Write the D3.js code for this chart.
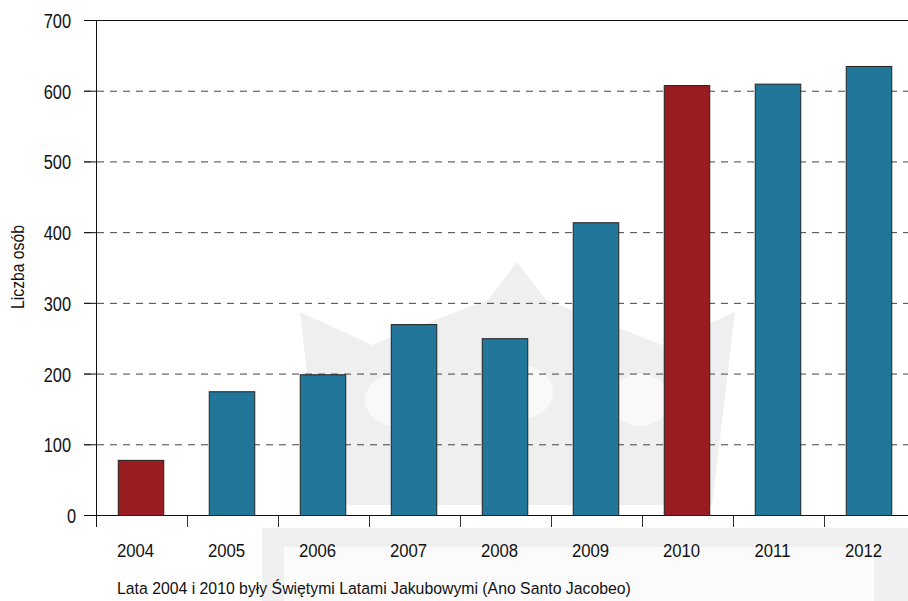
<!DOCTYPE html>
<html>
<head>
<meta charset="utf-8">
<script src="https://cdn.jsdelivr.net/npm/d3@7"></script>
<style>
  body { margin: 0; background: #fff; }
  svg { display: block; }
  text { font-family: "Liberation Sans", Arial, sans-serif; fill: #111; }
</style>
</head>
<body>
<div id="chart"></div>
<script>
const years = ["2004", "2005", "2006", "2007", "2008", "2009", "2010", "2011", "2012"];
const persons = [78, 175, 199, 270, 250, 414, 608, 610, 635];
const holyYears = ["2004", "2010"];
const yTicks = [0, 100, 200, 300, 400, 500, 600, 700];
const yTitle = "Liczba osób";
const footnote = "Lata 2004 i 2010 były  Świętymi Latami Jakubowymi (Ano Santo Jacobeo)";

const width = 908, height = 601;
const plotLeft = 96.5, plotTop = 20.5, plotBottom = 515.5;

const svg = d3.select("#chart").append("svg")
  .attr("width", width)
  .attr("height", height);

// narrow font is not available, so squeeze the text horizontally
const narrow = (tx, ty, sx) => `translate(${tx},${ty}) scale(${sx},1)`;

// faint watermark in the background
const wm = svg.append("g").attr("class", "watermark");
wm.append("rect").attr("x", 262).attr("y", 528).attr("width", 646).attr("height", 73).attr("fill", "#f0f0f0");
wm.append("rect").attr("x", 284).attr("y", 547).attr("width", 590).attr("height", 54).attr("fill", "#fbfbfb");
wm.append("path")
  .attr("d", "M300,312 L372,345 L440,318 L488,300 L517,262 L546,300 L594,318 L662,345 L735,312 L712,505 L322,505 Z")
  .attr("fill", "#efefef");
[[395, 400, 30, 26], [517, 392, 36, 28], [640, 400, 30, 26]].forEach(([cx, cy, rx, ry]) => {
  wm.append("ellipse").attr("cx", cx).attr("cy", cy).attr("rx", rx).attr("ry", ry).attr("fill", "#f9f9f9");
});

const x = d3.scaleBand()
  .domain(years)
  .range([plotLeft, 915.5])
  .paddingInner(0.5)
  .paddingOuter(0.25);

const y = d3.scaleLinear()
  .domain([0, 700])
  .range([plotBottom, plotTop]);

// gridlines and y ticks
svg.append("g").selectAll("line")
  .data(yTicks)
  .enter().append("line")
  .attr("x1", 84)
  .attr("x2", width)
  .attr("y1", d => y(d))
  .attr("y2", d => y(d))
  .attr("stroke", d => (d === 0 || d === 700) ? "#111" : "#444")
  .attr("stroke-width", 1)
  .attr("stroke-dasharray", d => (d === 0 || d === 700) ? null : "7,6");

svg.append("g").selectAll("line")
  .data(yTicks.filter(d => d !== 0 && d !== 700))
  .enter().append("line")
  .attr("x1", 84)
  .attr("x2", plotLeft)
  .attr("y1", d => y(d))
  .attr("y2", d => y(d))
  .attr("stroke", "#111");

svg.append("g").selectAll("text")
  .data(yTicks)
  .enter().append("text")
  .attr("transform", d => narrow(d === 0 ? 76 : 71, y(d) + 7.5, 0.84))
  .attr("text-anchor", "end")
  .attr("font-size", 19.5)
  .text(d => d);

// bars
svg.append("g").selectAll("rect")
  .data(years)
  .enter().append("rect")
  .attr("x", d => x(d) - 1)
  .attr("y", (d, i) => y(persons[i]))
  .attr("width", x.bandwidth())
  .attr("height", (d, i) => y(0) - y(persons[i]))
  .attr("fill", d => holyYears.includes(d) ? "#991c21" : "#21769a")
  .attr("stroke", "#222")
  .attr("stroke-width", 1);

// axes lines
svg.append("line")
  .attr("x1", plotLeft).attr("x2", plotLeft)
  .attr("y1", plotTop).attr("y2", 527)
  .attr("stroke", "#111");

svg.append("g").selectAll("line")
  .data(years.slice(1))
  .enter().append("line")
  .attr("x1", d => x(d) - x.step() * 0.25)
  .attr("x2", d => x(d) - x.step() * 0.25)
  .attr("y1", plotBottom)
  .attr("y2", 527)
  .attr("stroke", "#333");

svg.append("g").selectAll("text")
  .data(years)
  .enter().append("text")
  .attr("transform", d => narrow(x(d) + x.bandwidth() / 2 - 6.5, 557, 0.88))
  .attr("text-anchor", "middle")
  .attr("font-size", 19)
  .text(d => d);

svg.append("text")
  .attr("transform", "translate(24,267) rotate(-90) scale(0.9,1)")
  .attr("text-anchor", "middle")
  .attr("font-size", 17.5)
  .text(yTitle);

svg.append("text")
  .attr("transform", narrow(117, 594, 0.93))
  .attr("font-size", 17)
  .text(footnote);
</script>
</body>
</html>
